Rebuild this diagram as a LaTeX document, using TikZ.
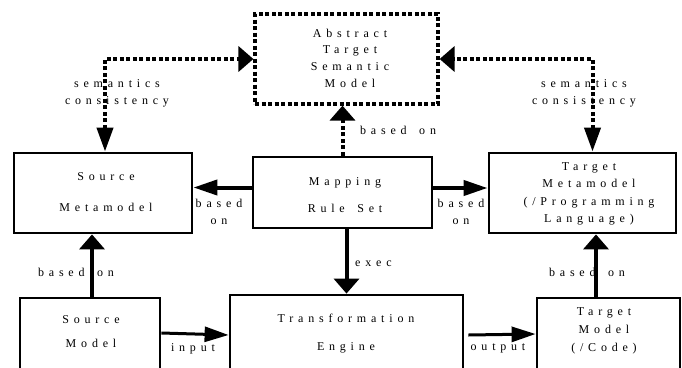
\documentclass[tikz,border=0pt]{standalone}
\usepackage{fontspec}
\setmainfont{Liberation Serif}
\newfontfamily\spc[LetterSpace=40,WordSpace=1.6]{Liberation Serif}
\usetikzlibrary{arrows.meta}
\tikzset{
  box/.style={draw, line width=2.8pt, inner sep=0pt, fill=white},
  dotbox/.style={draw, line width=3.2pt, dash pattern=on 4pt off 2.5pt, inner sep=0pt},
  txt/.style={font=\spc\fontsize{12}{#1}\selectfont, align=center, inner sep=0pt},
  txt/.default=17,
  vtip/.style={-{Triangle[length=15pt,width=25pt]}},
  htip/.style={-{Triangle[length=24pt,width=15pt]}},
  solidarrow/.style={line width=4pt},
  dotarrow/.style={line width=4pt, dash pattern=on 4pt off 2.5pt},
  dbl/.style={{Triangle[length=24pt,width=16pt]}-{Triangle[length=15pt,width=25pt]}},
}
\begin{document}
\begin{tikzpicture}[x=1pt,y=-1pt]
\clip (0,0) rectangle (682,367);
\fill[white] (0,0) rectangle (682,367);
% boxes
\node[dotbox, minimum width=183pt, minimum height=90pt] (abs) at (346.5,59) {};
\node[box, minimum width=178pt, minimum height=80pt] (srcmm) at (103,193) {};
\node[box, minimum width=179pt, minimum height=71pt] (map) at (342.5,192.5) {};
\node[box, minimum width=187pt, minimum height=80pt] (tgtmm) at (582.5,193) {};
\node[box, minimum width=140pt, minimum height=76pt] (srcm) at (90,336) {};
\node[box, minimum width=233pt, minimum height=80pt] (trans) at (346.5,335) {};
\node[box, minimum width=143pt, minimum height=76pt] (tgtm) at (608.5,336) {};
% box texts
\node[txt=16.7] (abstxt) at (350,58) {Abstract\\Target\\Semantic\\Model};
\node[txt=31] (srcmmtxt) at (106,192.5) {Source\\Metamodel};
\node[txt=27] (maptxt) at (345,195.5) {Mapping\\Rule Set};
\node[txt=17.3] (tgtmmtxt) at (589,194) {Target\\Metamodel\\(/Programming\\Language)};
\node[txt=24] (srcmtxt) at (91,332) {Source\\Model};
\node[txt=28] (transtxt) at (346,334) {Transformation\\Engine};
\node[txt=18] (tgtmtxt) at (604,331) {Target\\Model\\(/Code)};
% dotted connectors
\coordinate (lc) at ([xshift=2pt]srcmm.north);
\draw[dotarrow, dbl] (lc) |- (abs.west);
\coordinate (rc) at ([xshift=10pt]tgtmm.north);
\draw[dotarrow, dbl] (rc) |- (abs.east);
\draw[dotarrow, vtip] (map.north) -- (map.north |- abs.south);
% solid connectors
\coordinate (ml) at ([yshift=5pt]map.west);
\draw[solidarrow, htip] (ml) -- (ml -| srcmm.east);
\coordinate (mr) at ([yshift=4.5pt]map.east);
\draw[solidarrow, htip] (mr) -- (mr -| tgtmm.west);
\coordinate (mb) at (map.south -| trans.north);
\draw[solidarrow, vtip] (mb) -- (trans.north);
\coordinate (sb) at ([xshift=2pt]srcm.north);
\draw[solidarrow, vtip] (sb) -- (sb |- srcmm.south);
\coordinate (tb) at ([xshift=-12.5pt]tgtm.north);
\draw[solidarrow, vtip] (tb) -- (tb |- tgtmm.south);
\draw[line width=3pt, htip] ([yshift=3pt]srcm.east) -- (trans.west);
\coordinate (te) at ([xshift=4pt]trans.east);
\draw[line width=3pt, htip] (te) -- ([yshift=2pt]tgtm.west);
% labels
\node[txt=17] (lsem) at (117,93.5) {semantics\\consistency};
\node[txt=17] (rsem) at (584,93.5) {semantics\\consistency};
\node[txt, anchor=west] (lbabs) at (360,130) {based on};
\node[txt=17] (lbl) at (219,211.5) {based\\on};
\node[txt=17] (lbr) at (461,211.5) {based\\on};
\node[txt, anchor=west] (lexec) at (355,264) {exec};
\node[txt] (lbsl) at (76,272) {based on};
\node[txt] (lbsr) at (587,272) {based on};
\node[txt] (linput) at (193,349) {input};
\node[txt] (loutput) at (498,348) {output};
\end{tikzpicture}
\end{document}
